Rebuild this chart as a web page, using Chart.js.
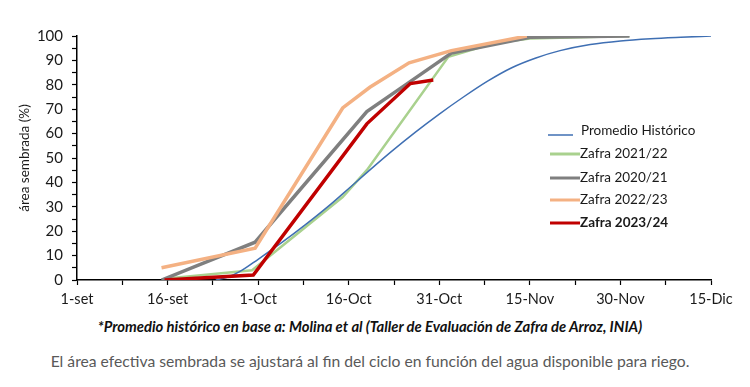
<!DOCTYPE html>
<html>
<head>
<meta charset="utf-8">
<script src="https://cdn.jsdelivr.net/npm/chart.js@4.4.1/dist/chart.umd.min.js"></script>
<style>
  body { margin: 0; background: #fff; font-family: Lato, sans-serif; }
  #wrap { position: relative; width: 750px; height: 387px; }
  #grafico { position: absolute; left: 0; top: 0; }
  .nota { position: absolute; left: 0; width: 740px; text-align: center; white-space: nowrap; }
  #fuente { top: 317px; font-size: 14.8px; font-weight: bold; font-style: italic; color: #111; }
  #aclaracion { top: 352px; font-size: 15.7px; color: #595959; }
</style>
</head>
<body>
<div id="wrap">
  <canvas id="grafico" width="750" height="315"></canvas>
  <div class="nota" id="fuente">*Promedio histórico en base a: Molina et al (Taller de Evaluación de Zafra de Arroz, INIA)</div>
  <div class="nota" id="aclaracion">El área efectiva sembrada se ajustará al fin del ciclo en función del agua disponible para riego.</div>
</div>
<script>
// eje x en dias desde el 1-set
const etiquetasX = ['1-set', '16-set', '1-Oct', '16-Oct', '31-Oct', '15-Nov', '30-Nov', '15-Dic'];

const nombres = ['Promedio Histórico', 'Zafra 2021/22', 'Zafra 2020/21', 'Zafra 2022/23', 'Zafra 2023/24'];
const colores = ['#3f6fb3', '#a9d18e', '#7f7f7f', '#f4b183', '#c00000'];

const diasPromedio = [23, 25, 27, 30, 34, 38, 42, 45, 48, 52, 56, 60, 64, 68, 72, 76, 80, 85, 90, 95, 100, 105];
const valPromedio = [0, 1.2, 3.5, 8.5, 15.5, 23, 31, 37.5, 44, 52.5, 60.5, 68, 75, 81.5, 87, 91, 94, 96.5, 98, 98.9, 99.5, 100];

const dias2122 = [14.5, 29, 44, 48, 61.5, 69, 75, 91.5];
const val2122 = [0.5, 4, 34, 45, 91.5, 97, 99, 100];

const dias2021 = [14, 29.5, 48, 55, 62, 75, 91.5];
const val2021 = [0, 15.5, 69, 81, 93, 99.5, 100];

const dias2223 = [14, 29.5, 44, 48.5, 55, 62, 74.5];
const val2223 = [5, 13, 70.5, 79, 89, 94, 100];

const dias2324 = [14.5, 29.2, 48, 55.2, 59];
const val2324 = [0, 2, 64, 80.5, 82];

function puntos(d, v) {
    let p = [];
    for (let i = 0; i < d.length; i++) p.push({ x: d[i], y: v[i] });
    return p;
}

const series = [
    { d: diasPromedio, v: valPromedio, ancho: 1.5, orden: 2 },
    { d: dias2122, v: val2122, ancho: 2.5, orden: 5 },
    { d: dias2021, v: val2021, ancho: 3.5, orden: 4 },
    { d: dias2223, v: val2223, ancho: 3.5, orden: 3 },
    { d: dias2324, v: val2324, ancho: 3.5, orden: 1 }
];

const datasets = series.map((s, i) => ({
    label: nombres[i],
    data: puntos(s.d, s.v),
    borderColor: colores[i],
    backgroundColor: colores[i],
    borderWidth: s.ancho,
    pointRadius: 0,
    order: s.orden,
    cubicInterpolationMode: i === 0 ? 'monotone' : 'default',
    tension: 0
}));

// leyenda dentro del grafico, como en Excel
const leyenda = {
    id: 'leyenda',
    afterDraw(chart) {
        const ctx = chart.ctx;
        const ys = [131, 154, 178, 200, 223];
        ctx.save();
        ctx.textBaseline = 'middle';
        ctx.textAlign = 'left';
        for (let i = 0; i < nombres.length; i++) {
            ctx.strokeStyle = colores[i];
            ctx.lineWidth = i === 0 ? 1.5 : 3;
            ctx.beginPath();
            if (i === 0) {
                ctx.moveTo(548, ys[i] + 4);
                ctx.lineTo(573, ys[i] + 4);
            } else {
                ctx.moveTo(550, ys[i]);
                ctx.lineTo(580, ys[i]);
            }
            ctx.stroke();
            ctx.fillStyle = '#1a1a1a';
            ctx.font = (i === 4 ? 'bold ' : '') + '13.5px Lato';
            ctx.fillText(nombres[i], i === 0 ? 581 : 580, ys[i]);
        }
        ctx.restore();
    }
};

new Chart(document.getElementById('grafico'), {
    type: 'line',
    data: { datasets: datasets },
    plugins: [leyenda],
    options: {
        responsive: false,
        animation: false,
        layout: { padding: { left: 0, right: 39, top: 36, bottom: 0 } },
        plugins: {
            legend: { display: false },
            tooltip: { enabled: false },
            title: { display: false }
        },
        scales: {
            x: {
                type: 'linear',
                min: 0,
                max: 105,
                afterFit: function (s) { s.height = 35; },
                border: { color: '#000', width: 1.5 },
                grid: { drawOnChartArea: false, tickLength: 5, tickColor: '#000', tickWidth: 1.2 },
                ticks: {
                    stepSize: 7.5,
                    autoSkip: false,
                    maxRotation: 0,
                    padding: 6,
                    color: '#1a1a1a',
                    font: { family: 'Lato', size: 14.5 },
                    callback: function (v) {
                        return v % 15 === 0 ? etiquetasX[v / 15] : '';
                    }
                }
            },
            y: {
                min: 0,
                max: 100,
                afterFit: function (s) { s.width = 77; },
                border: { color: '#000', width: 1.5 },
                grid: { drawOnChartArea: false, tickLength: 5, tickColor: '#000', tickWidth: 1.2 },
                title: {
                    display: true,
                    text: 'área sembrada (%)',
                    color: '#1a1a1a',
                    font: { family: 'Lato', size: 13.5 },
                    padding: { top: 17, bottom: 0 }
                },
                ticks: {
                    stepSize: 5,
                    autoSkip: false,
                    padding: 9,
                    color: '#1a1a1a',
                    font: { family: 'Lato', size: 15 },
                    callback: function (v) {
                        return v % 10 === 0 ? v : '';
                    }
                }
            }
        }
    }
});
</script>
</body>
</html>
